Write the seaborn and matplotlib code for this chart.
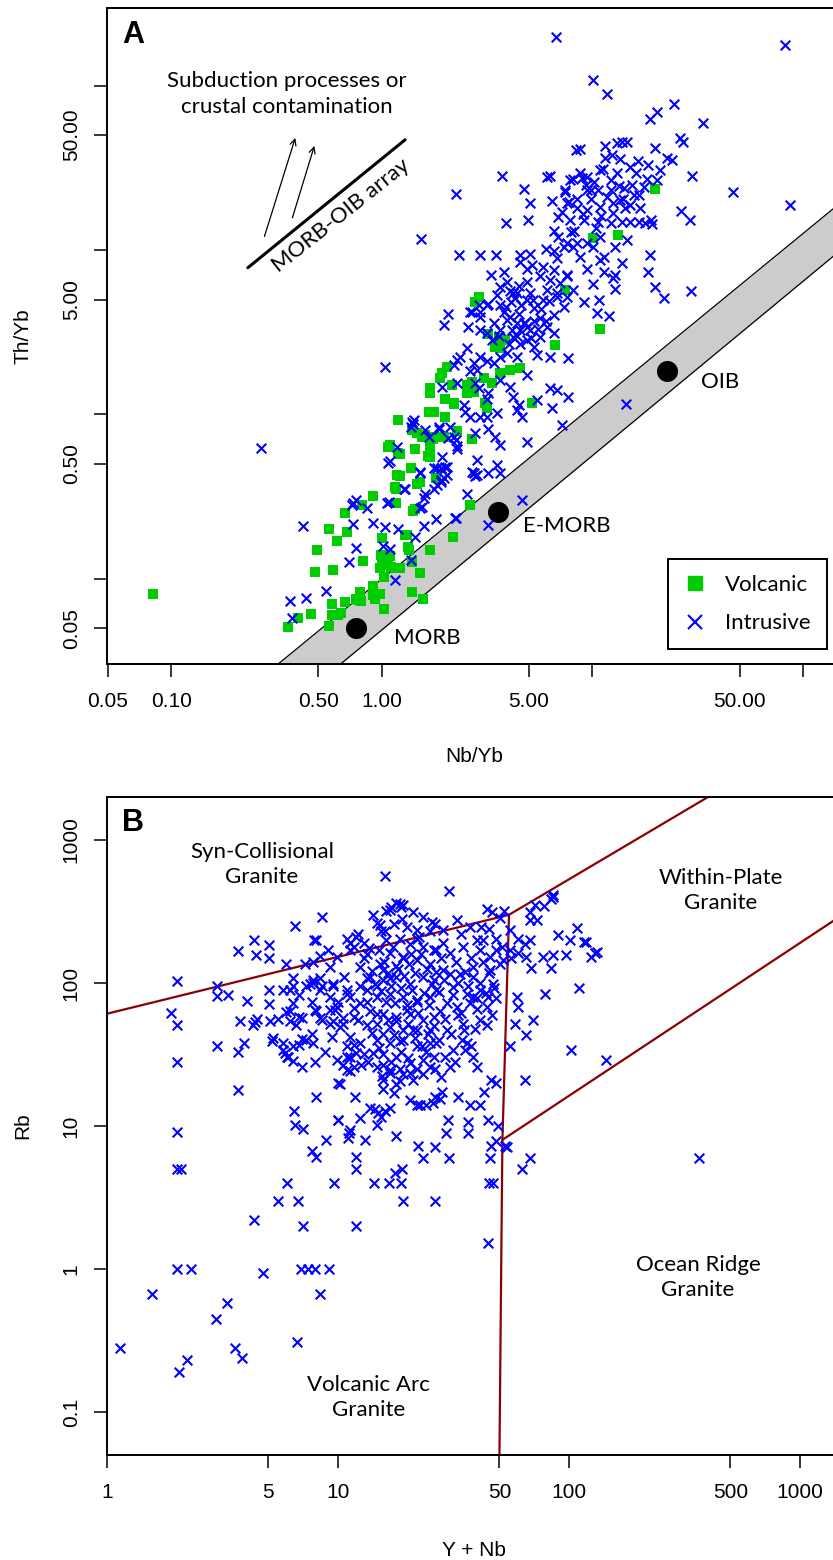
import numpy as np
import pandas as pd
import matplotlib
matplotlib.use("Agg")
import matplotlib.pyplot as plt
import seaborn as sns
from matplotlib.lines import Line2D
from matplotlib.ticker import NullLocator, FixedLocator, FixedFormatter
from matplotlib import font_manager

# ---------------- Panel A data (Nb/Yb vs Th/Yb) ----------------
volc_nb_yb = [
    0.082, 0.36, 0.40, 0.46, 0.48, 0.49, 0.585, 0.615, 0.56, 0.68,
    0.67, 0.805, 0.91, 0.58, 0.58, 0.62, 0.56, 0.67, 0.77, 0.79,
    0.81, 0.91, 0.93, 1.02, 0.98, 0.98, 1.02, 1.07, 1.0, 1.16,
    1.22, 1.18, 1.22, 1.17, 1.17, 1.07, 1.2, 1.19, 1.38, 1.29,
    1.34, 1.39, 1.47, 1.44, 1.41, 1.68, 1.76, 2.0, 2.19, 1.39,
    1.47, 1.55, 1.75, 1.98, 1.09, 1.22, 1.70, 1.66, 1.51, 1.81,
    1.16, 1.43, 2.61, 2.18, 1.69, 1.31, 1.33, 0.99, 1.09, 1.0,
    1.02, 1.10, 1.39, 1.51, 0.91, 0.91, 0.75, 0.80, 0.64, 1.57,
    2.88, 2.78, 3.2, 3.45, 3.65, 3.86, 3.6, 4.07, 4.55, 6.67,
    5.17, 2.04, 1.93, 1.88, 2.15, 2.54, 2.68, 3.05, 3.33, 3.65,
    1.70, 1.70, 1.99, 2.19, 1.73, 1.99, 2.54, 2.73, 3.1, 3.16,
    1.61, 1.76, 1.70, 1.70, 2.27, 2.68, 19.9, 13.2, 10.1, 7.44,
    10.9]
volc_th_yb = [
    0.081, 0.051, 0.0575, 0.061, 0.11, 0.15, 0.114, 0.17, 0.20, 0.194,
    0.25, 0.28, 0.32, 0.07, 0.06, 0.06, 0.052, 0.072, 0.074, 0.083,
    0.128, 0.088, 0.075, 0.066, 0.081, 0.116, 0.139, 0.134, 0.178, 0.116,
    0.116, 0.43, 0.42, 0.35, 0.29, 0.635, 0.58, 0.93, 0.47, 0.186,
    0.15, 0.083, 0.38, 0.62, 0.26, 1.03, 1.04, 0.97, 1.16, 0.80,
    0.77, 0.73, 0.71, 0.73, 0.65, 0.575, 0.61, 0.56, 0.39, 0.41,
    0.36, 0.265, 0.28, 0.18, 0.15, 0.185, 0.157, 0.14, 0.137, 0.122,
    0.103, 0.119, 0.127, 0.109, 0.09, 0.08, 0.076, 0.073, 0.062, 0.076,
    5.2, 4.85, 3.1, 2.58, 2.52, 2.84, 2.9, 1.86, 1.91, 2.64,
    1.17, 1.95, 1.78, 1.66, 1.51, 1.51, 1.58, 1.66, 1.55, 1.78,
    1.44, 1.35, 1.25, 1.17, 1.04, 0.97, 1.35, 1.37, 1.17, 1.09,
    0.75, 0.73, 0.55, 0.64, 0.79, 0.71, 23.4, 12.3, 11.9, 5.7,
    3.33]

intr_nb_yb = [
    0.268, 1.03, 0.42, 0.367, 0.375, 0.438, 0.545, 0.70, 0.757, 0.73,
    0.73, 0.75, 0.72, 0.85, 0.91, 1.04, 1.06, 1.01, 1.09, 1.15,
    1.37, 1.07, 1.18, 1.27, 1.38, 1.40, 1.39, 1.61, 1.86, 2.07,
    2.26, 2.27, 1.67, 1.09, 1.52, 1.76, 1.90, 2.04, 1.93, 1.83,
    1.90, 1.97, 1.61, 1.58, 1.55, 1.52, 1.08, 2.54, 2.73, 2.78,
    2.83, 2.78, 2.26, 1.81, 1.59, 1.19, 1.43, 2.07, 1.97, 2.68,
    2.94, 3.16, 2.88, 2.58, 3.65, 4.07, 4.38, 4.15, 3.93, 4.71,
    5.26, 5.66, 6.10, 6.55, 7.30, 7.57, 6.8, 5.86, 4.88, 4.38,
    4.22, 4.55, 4.88, 5.26, 5.66, 5.05, 4.38, 3.93, 3.65, 3.16,
    3.33, 2.94, 5.45, 6.3, 7.7, 2.54, 2.36, 2.73, 2.94, 3.16,
    3.40, 3.65, 2.83, 2.78, 2.88, 3.2, 3.17, 2.27, 2.19, 4.07,
    4.22, 4.46, 4.38, 4.62, 4.88, 5.45, 6.3, 6.8, 6.4, 7.7,
    7.17, 4.88, 2.45, 2.49, 2.63, 2.94, 3.16, 3.52, 1.93, 2.27,
    2.63, 1.42, 1.86, 2.11, 2.19, 2.27, 3.2, 3.45, 3.65, 1.83,
    1.99, 2.03, 1.9, 1.76, 1.52, 1.29, 2.68, 2.83, 3.2, 3.52,
    4.62, 3.72, 6.28, 7.44, 7.85, 4.75, 5.07, 6.43, 7.57, 2.25,
    3.9, 4.93, 6.85, 1.53, 6.55, 6.9, 2.32, 2.94, 3.5, 4.52,
    5.05, 3.3, 3.79, 3.93, 4.55, 5.17, 5.86, 6.8, 7.30, 7.57,
    6.55, 6.3, 7.05, 7.57, 5.66, 4.88, 4.46, 4.22, 5.05, 6.1,
    6.8, 4.07, 3.65, 11.7, 24.4, 20.3, 18.7, 33.6, 26.2, 27.0,
    8.77, 11.5, 13.1, 13.8, 14.6, 19.9, 11.5, 13.6, 22.6, 23.9,
    18.3, 21.0, 15.1, 16.2, 10.9, 8.13, 8.77, 9.45, 12.2, 13.1,
    18.2, 20.3, 29.8, 46.8, 7.44, 9.45, 10.6, 12.2, 14.1, 16.6,
    7.71, 8.44, 9.45, 10.9, 12.6, 13.6, 15.1, 16.9, 26.4, 29.0,
    7.85, 9.1, 10.6, 12.2, 13.8, 15.1, 16.6, 18.9, 14.6, 12.8,
    10.9, 9.45, 8.13, 18.7, 18.3, 19.9, 21.9, 29.5, 13.8, 11.3,
    12.8, 10.1, 12.8, 10.7, 9.1, 8.13, 7.57, 8.77, 10.1, 11.3,
    6.74, 82.2, 10.1, 8.38, 86.7, 12.0, 10.5, 14.4, 6.10, 8.9,
    9.9, 14.0, 15.7, 17.8, 19.3, 3.52, 3.21, 2.94, 2.63, 3.21,
    3.65, 2.23, 4.88, 6.55, 8.44, 10.9, 12.6, 9.45, 4.55, 3.65,
    3.4, 3.8, 4.1, 4.5, 4.9, 5.3, 5.7, 6.2, 3.6, 4.0,
    4.4, 4.8, 5.1, 5.5, 6.0, 6.6, 3.9, 4.3, 4.6, 5.2,
    8.2, 9.0, 9.8, 10.4, 11.0, 11.8, 12.6, 13.4, 14.3, 15.5,
    16.5, 17.5, 8.5, 9.3, 10.2, 11.2, 12.4, 7.2, 7.9, 6.0]
intr_th_yb = [
    0.625, 1.94, 0.209, 0.0735, 0.0575, 0.0766, 0.084, 0.126, 0.155, 0.215,
    0.29, 0.30, 0.28, 0.27, 0.22, 0.207, 0.29, 0.159, 0.152, 0.099,
    0.131, 0.51, 0.635, 0.35, 0.84, 0.87, 0.90, 0.81, 0.82, 0.72,
    0.70, 0.62, 0.73, 0.52, 0.45, 0.47, 0.47, 0.48, 0.55, 0.37,
    0.40, 0.41, 0.33, 0.31, 0.275, 0.27, 0.295, 0.33, 0.44, 0.42,
    0.53, 0.77, 0.235, 0.23, 0.21, 0.20, 0.18, 4.1, 3.5, 4.2,
    3.93, 4.6, 4.6, 3.42, 4.6, 3.93, 3.58, 3.26, 3.75, 3.58,
    4.42, 3.86, 3.42, 3.11, 4.52, 5.2, 5.45, 4.97, 4.97, 5.45,
    2.97, 2.7, 2.84, 2.58, 2.97, 3.26, 2.25, 2.35, 2.25, 3.11,
    2.84, 3.26, 2.30, 2.25, 2.19, 2.52, 2.25, 2.05, 2.25, 2.1,
    2.05, 1.62, 1.86, 1.55, 1.44, 1.35, 1.25, 2.14, 2.0, 1.47,
    1.28, 1.14, 1.06, 0.97, 1.74, 1.22, 1.44, 1.41, 1.09, 1.28,
    0.86, 0.68, 1.14, 1.04, 0.97, 0.97, 0.97, 1.02, 1.47, 1.55,
    1.83, 0.93, 0.84, 0.84, 0.73, 0.64, 0.82, 0.73, 0.65, 0.47,
    0.48, 0.43, 0.39, 0.35, 0.44, 0.35, 0.45, 0.43, 0.44, 0.49,
    0.30, 28.2, 28.0, 22.6, 26.6, 23.4, 19.2, 19.9, 19.2, 21.8,
    14.5, 15.2, 15.8, 11.6, 13.1, 12.0, 9.3, 9.3, 9.3, 9.3,
    9.5, 7.05, 7.4, 6.4, 8.5, 8.1, 7.9, 8.9, 10.5, 11.0,
    7.55, 6.55, 6.27, 7.05, 6.9, 6.4, 6.0, 5.45, 5.45, 5.7,
    5.2, 5.6, 5.95, 89, 77, 69, 63, 59, 47.7, 45.4,
    41.0, 43.0, 45.0, 45.4, 45.4, 41.5, 36.0, 35.7, 36.0, 35.2,
    32.9, 30.6, 32.1, 29.2, 30.6, 27.2, 29.2, 27.9, 26.7, 29.2,
    27.2, 26.7, 28.0, 22.6, 23.2, 23.2, 23.2, 23.2, 23.8, 21.6,
    19.6, 17.9, 17.5, 18.3, 19.2, 20.1, 18.8, 17.9, 17.3, 15.2,
    15.2, 15.2, 14.8, 14.5, 14.9, 14.9, 14.9, 15.2, 11.5, 10.5,
    12.0, 11.0, 10.5, 9.3, 7.3, 5.97, 5.1, 5.6, 8.30, 7.4,
    7.05, 6.25, 5.76, 5.0, 4.85, 5.7, 6.9, 9.1, 10.5, 9.1,
    198, 177, 107.5, 40.8, 18.8, 3.98, 4.13, 1.15, 27.9, 27.5,
    23.0, 20.3, 21.7, 14.5, 14.3, 5.33, 4.72, 4.18, 4.18, 0.214,
    0.44, 0.235, 7.67, 9.8, 11.1, 8.7, 6.8, 7.67, 3.28, 3.28,
    3.6, 4.2, 4.8, 4.1, 3.4, 3.7, 4.4, 4.9, 3.0, 2.7,
    3.0, 3.6, 2.9, 3.3, 3.7, 4.0, 4.5, 5.1, 4.6, 5.0,
    13.0, 16.5, 20.5, 13.6, 16.2, 21.0, 16.8, 24.5, 18.0, 25.0,
    35.0, 24.0, 20.5, 25.0, 26.0, 31.0, 38.0, 17.0, 12.8, 10.2]

# reference compositions
ref_names = ["MORB", "E-MORB", "OIB"]
ref_nb_yb = [0.75, 3.57, 22.5]
ref_th_yb = [0.050, 0.255, 1.84]

# MORB-OIB array band edges (end points)
band_nb_yb = [0.2, 160.0]
band_upper = [0.01845, 20.6]
band_lower = [0.0089, 10.6]

# MORB-OIB array key line and arrows
key_nb_yb = [0.231, 1.29]
key_th_yb = [7.8, 46.8]
arrow_start = [(0.277, 12.1), (0.376, 15.7)]
arrow_end = [(0.388, 48.0), (0.478, 42.9)]

# ---------------- Panel B data (Y+Nb vs Rb) ----------------
gr_y_nb = [
    1.14, 1.56, 2.04, 2.21, 2.0, 2.30, 2.0, 2.1, 2.0, 2.0,
    2.0, 1.9, 2.0, 2.96, 3.3, 3.6, 3.83, 4.72, 4.33, 6.66,
    8.37, 6.9, 7.4, 7.95, 9.1, 7.08, 5.5, 6.7, 6.03, 9.6,
    12.0, 14.3, 16.7, 18.8, 17.6, 19.0, 19.2, 8.03, 6.44, 6.5,
    7.08, 7.7, 8.06, 8.83, 10.0, 11.1, 11.2, 12.0, 12.0, 13.1,
    10.0, 11.9, 3.7, 3.7, 3.9, 2.98, 3.76, 4.37, 4.28, 4.44,
    4.02, 2.98, 2.98, 3.35, 3.7, 4.42, 4.33, 5.04, 5.04, 5.04,
    5.04, 5.08, 5.5, 5.16, 5.25, 5.8, 6.2, 6.4, 5.98, 5.98,
    6.2, 6.6, 6.8, 5.8, 5.9, 6.1, 6.4, 6.5, 7.9, 8.06,
    8.5, 7.2, 7.8, 8.36, 9.06, 6.4, 6.8, 7.3, 7.8, 8.36,
    8.5, 6.97, 7.7, 7.95, 8.36, 9.2, 9.5, 6.97, 7.8, 7.95,
    8.77, 9.4, 10.2, 10.5, 10.9, 11.7, 12.0, 11.3, 12.6, 9.5,
    10.0, 10.9, 11.7, 10.5, 9.7, 10.9, 11.7, 12.2, 12.9, 13.3,
    14.2, 14.7, 15.4, 16.2, 17.0, 17.9, 18.8, 16.0, 13.3, 14.7,
    15.7, 16.8, 17.9, 19.1, 20.8, 21.9, 13.3, 14.7, 16.2, 17.9,
    19.8, 21.9, 13.3, 15.7, 18.5, 21.2, 14.2, 15.7, 16.8, 18.5,
    20.5, 15.7, 17.4, 13.8, 14.9, 15.9, 16.8, 17.9, 20.5, 21.9,
    18.5, 19.1, 16.8, 21.2, 23.4, 25.5, 15.2, 17.4, 19.8, 21.9,
    16.2, 18.5, 20.5, 23.4, 26.0, 16.8, 19.1, 21.9, 25.0, 15.2,
    12.4, 13.8, 15.7, 17.9, 20.5, 23.4, 26.0, 13.3, 14.7, 16.8,
    19.1, 21.9, 25.0, 13.8, 15.7, 17.9, 20.5, 23.4, 26.0, 14.7,
    16.8, 19.1, 21.9, 25.0, 14.7, 16.8, 19.1, 21.9, 25.0, 15.7,
    17.9, 20.5, 23.4, 26.0, 14.7, 16.8, 19.1, 15.7, 17.9, 21.2,
    23.4, 24.9, 22.7, 24.1, 26.3, 22.3, 26.3, 11.3, 12.0, 11.3,
    9.9, 9.2, 10.6, 9.5, 10.9, 11.3, 12.4, 11.7, 10.5, 11.3,
    12.4, 12.9, 11.3, 11.7, 10.9, 9.9, 9.2, 8.36, 7.8, 7.6,
    6.4, 6.2, 8.06, 8.5, 9.2, 7.7, 7.3, 6.8, 6.4, 5.8,
    6.0, 6.97, 9.9, 10.9, 10.2, 10.0, 11.3, 12.4, 14.4, 15.4,
    14.7, 30.3, 44.2, 46.5, 52.2, 50.3, 67.8, 71.3, 78, 67.8,
    73, 85, 84, 32.6, 28.6, 26.3, 37.3, 41.7, 42.4, 48.5,
    51.2, 55.5, 60.4, 64.6, 67.8, 89.7, 101, 108, 116, 130,
    132, 125, 77.4, 85, 97, 84, 68.6, 65.4, 60.4, 56.3,
    55.5, 111, 78.5, 59.6, 60.4, 58.3, 70, 65.4, 55.5, 102,
    145, 64.6, 45.8, 48.4, 43, 41, 37.3, 33, 28.1, 27.6,
    25.8, 29.9, 36.5, 36.5, 29.4, 44.5, 49.4, 48.5, 52.8, 38.4,
    44.8, 48.5, 39.9, 37.8, 35.4, 38.4, 29.0, 30.5, 26.3, 44.2,
    39.2, 34.4, 26.6, 30.5, 34.9, 41, 45.5, 48.5, 51.8, 28.6,
    33.7, 38.4, 45.5, 50.3, 26.6, 31.5, 36.1, 41, 46.8, 27.6,
    32.6, 37.3, 44.2, 29.5, 34.9, 41, 26.6, 31.5, 36.1, 53.7,
    45.9, 44.6, 364, 45.1, 26.3, 62.4, 67.8, 46.9, 23.4, 30.3,
    45.5, 119, 85,
    13.0, 13.6, 14.1, 14.5, 15.0, 15.3, 15.8, 16.4, 16.9, 17.3,
    17.7, 18.2, 18.7, 19.4, 19.9, 20.3, 21.0, 21.6, 22.2, 22.8,
    23.5, 24.2, 24.8, 25.6, 26.5, 27.3, 28.0, 28.8, 29.6, 30.5,
    31.4, 32.3, 33.2, 34.2, 35.3, 36.4, 37.5, 38.6, 39.8, 41.0,
    42.3, 43.6, 45.0, 46.3, 47.5, 14.0, 15.0, 16.5, 17.5, 18.8,
    20.0, 21.5, 23.0, 24.5, 26.0, 27.5, 29.0, 31.0, 33.0, 35.0,
    13.5, 15.5, 17.0, 18.5, 20.0, 22.0, 24.0, 28.0, 32.0, 40.0,
    16.0, 19.0, 22.5, 25.0, 28.5, 34.0, 40.0, 45.0, 12.5, 12.2]
gr_rb = [
    0.28, 0.67, 0.19, 0.23, 1.0, 1.0, 5.0, 5.0, 9.1, 28.2,
    51, 62, 103, 0.45, 0.58, 0.28, 0.24, 0.93, 2.2, 0.31,
    0.67, 1.0, 1.0, 1.0, 1.0, 2.0, 3.0, 3.0, 4.0, 4.0,
    2.0, 4.0, 4.0, 4.0, 4.7, 5.0, 3.0, 16.0, 12.8, 10.1,
    9.5, 6.7, 6.1, 8.0, 11.1, 8.2, 9.0, 6.1, 5.0, 8.0,
    20.0, 16.0, 18.0, 33, 38, 36, 54.6, 53, 50.6, 56,
    75, 95.6, 81.5, 82, 167, 158, 200, 184, 150, 89.6,
    71.6, 54.6, 56, 39, 41, 89.6, 89.6, 95.6, 135, 63,
    54, 50.6, 58, 38, 32.3, 30.4, 28.5, 251, 200, 200,
    290, 135, 141, 154, 169, 108, 82, 95.6, 100, 108,
    95.6, 57, 74, 65, 57, 65, 54, 40.4, 38, 28,
    33, 42, 49, 26.7, 30.4, 36.7, 32.3, 24.3, 26.7, 95.6,
    74, 84, 67, 57, 65, 203, 180, 219, 192, 159,
    300, 264, 232, 321, 342, 364, 342, 558, 108, 95.6,
    123, 108, 131, 150, 159, 203, 74, 61, 74, 54,
    65, 74, 50.6, 44.3, 39, 47, 32.3, 26.7, 23.5, 20.7,
    23.5, 18.2, 17.1, 13.3, 12.4, 12.8, 13.3, 8.5, 15.1, 14.1,
    359, 350, 322, 313, 290, 266, 254, 260, 246, 233,
    199, 204, 188, 178, 169, 161, 153, 144, 136, 136,
    130, 110, 105, 110, 99, 110, 105, 89, 80, 84,
    80, 76, 80, 64, 61, 58, 61, 55, 58, 52,
    49, 47, 47, 47, 40, 38, 40, 36, 38, 32,
    30.4, 27.4, 29, 30.4, 26, 24.5, 23.2, 20.9, 19.8, 20.9,
    23.2, 26, 14.0, 14.0, 16.0, 7.2, 7.1, 189, 210, 169,
    153, 130, 110, 99, 89, 80, 72, 58, 52, 42,
    38, 32, 30.4, 26, 36, 68, 80, 89, 105, 99,
    72, 64, 64, 55, 52, 44, 40, 37, 36, 34,
    30.4, 26, 29, 24.5, 19.8, 11.0, 9.4, 11.3, 13.2, 11.6,
    10.2, 440, 331, 313, 317, 283, 313, 350, 344, 275,
    275, 399, 386, 275, 233, 260, 246, 246, 199, 204,
    178, 233, 204, 188, 199, 216, 199, 241, 193, 161,
    165, 153, 153, 157, 157, 128, 128, 153, 161, 149,
    169, 92.5, 84, 80, 68, 52, 55, 43.6, 36, 34,
    29, 21.1, 21.1, 20, 17.3, 14.0, 14.0, 16.0, 17.3, 15.4,
    14.4, 11.1, 10.7, 8.9, 8.9, 11.1, 10.0, 7.9, 7.3, 80,
    80, 78, 66, 36, 34, 30.4, 30.4, 26, 25.2, 50.6,
    48, 40, 169, 161, 178, 169, 153, 169, 144, 123,
    116, 130, 123, 136, 89, 94, 84, 89, 99, 64,
    68, 72, 68, 47, 52, 55, 38, 34, 38, 7.1,
    7.2, 1.52, 6.0, 4.0, 3.0, 5.0, 6.0, 4.0, 6.0, 6.0,
    6.0, 193, 412,
    150, 175, 122, 98, 170, 88, 140, 117, 95, 180,
    72, 125, 92, 112, 70, 135, 90, 118, 62, 160,
    85, 125, 70, 98, 120, 86, 150, 105, 72, 115,
    82, 140, 100, 62, 120, 95, 150, 110, 78, 100,
    140, 85, 118, 60, 92, 45, 35, 55, 43, 33,
    52, 41, 36, 44, 50, 40, 56, 44, 60, 47,
    28, 22.5, 28, 25, 30, 25, 33, 22, 28, 26,
    230, 280, 210, 230, 190, 220, 200, 240, 95, 55]

# Pearce et al. (1984) discrimination boundaries
bnd_vag_col_x = [1, 55]
bnd_vag_col_y = [61, 300]
bnd_col_wpg_x = [55, 400]
bnd_col_wpg_y = [300, 2000]
bnd_vert_x = [55, 51.5, 50]
bnd_vert_y = [300, 8, 0.05]
bnd_wpg_org_x = [51.5, 2000]
bnd_wpg_org_y = [8, 400]

# ---------------- style ----------------
sns.set_theme(style="ticks")
avail = {f.name for f in font_manager.fontManager.ttflist}
SANS = "Liberation Sans" if "Liberation Sans" in avail else "DejaVu Sans"
HUM = "Lato" if "Lato" in avail else SANS
plt.rcParams["font.family"] = [SANS, "DejaVu Sans"]
plt.rcParams["axes.edgecolor"] = "black"
plt.rcParams["xtick.color"] = "black"
plt.rcParams["ytick.color"] = "black"
plt.rcParams["text.color"] = "black"

GREEN = "#00CD00"
BLUE = "#0000FF"
DARKRED = "#8B0000"
ANN = 16

W, H = 833, 1560
fig = plt.figure(figsize=(W / 100, H / 100), dpi=100)


def px_axes(l, t, r, b):
    return fig.add_axes([l / W, 1 - b / H, (r - l) / W, (b - t) / H])


def style_axes(ax):
    for s in ["left", "bottom", "top"]:
        ax.spines[s].set_linewidth(1.4)
        ax.spines[s].set_color("black")
    ax.spines["right"].set_visible(False)
    ax.xaxis.set_minor_locator(NullLocator())
    ax.yaxis.set_minor_locator(NullLocator())
    ax.tick_params(axis="both", which="major", direction="out", length=9.4,
                   width=1.1, labelsize=15, color="black")
    ax.tick_params(axis="x", pad=10.5)
    ax.tick_params(axis="y", pad=9.5, labelrotation=90)
    for lab in ax.get_yticklabels():
        lab.set_va("center")
    ax.grid(False)


# ================= Panel A =================
axA = px_axes(107, 8, 833, 664)
axA.set_xscale("log")
axA.set_yscale("log")

axA.fill_between(band_nb_yb, band_lower, band_upper, color="#CCCCCC", lw=0, zorder=1)
axA.plot(band_nb_yb, band_upper, color="black", lw=0.9, zorder=1.5)
axA.plot(band_nb_yb, band_lower, color="black", lw=0.9, zorder=1.5)

sns.scatterplot(x=ref_nb_yb, y=ref_th_yb, color="black", s=230, linewidth=0,
                ax=axA, zorder=3, legend=False)

dfv = pd.DataFrame({"nb": volc_nb_yb, "th": volc_th_yb})
dfi = pd.DataFrame({"nb": intr_nb_yb, "th": intr_th_yb})
sns.scatterplot(data=dfv, x="nb", y="th", marker="s", color=GREEN, s=52,
                linewidth=0, ax=axA, zorder=4, legend=False)
sns.scatterplot(data=dfi, x="nb", y="th", marker="x", color=BLUE, s=48,
                linewidth=1.5, ax=axA, zorder=5, legend=False)

axA.plot(key_nb_yb, key_th_yb, color="black", lw=2.2, zorder=2)
for (x0, y0), (x1, y1) in zip(arrow_start, arrow_end):
    axA.annotate("", xy=(x1, y1), xytext=(x0, y0),
                 arrowprops=dict(arrowstyle="->", lw=0.9, color="black",
                                 shrinkA=0, shrinkB=0, mutation_scale=11))

axA.text(0.352, 88.8, "Subduction processes or\ncrustal contamination",
         ha="center", va="center", fontsize=ANN, family=HUM, linespacing=1.35)
axA.text(0.641, 16.3, "MORB-OIB array", rotation=38.5, rotation_mode="anchor",
         ha="center", va="center", fontsize=ANN, family=HUM)
label_pos = {"MORB": (1.64, 0.0438), "E-MORB": (7.6, 0.21), "OIB": (40.5, 1.585)}
for nm in ref_names:
    lx, ly = label_pos[nm]
    axA.text(lx, ly, nm, ha="center", va="center", fontsize=ANN, family=HUM)

axA.text(0.036, 0.959, "A", transform=axA.transAxes, ha="center", va="center",
         fontsize=22, fontweight="bold")

axA.set_xlim(0.0495, 139)
axA.set_ylim(0.0304, 296)
a_ticks = [0.05, 0.1, 0.5, 1, 5, 10, 50, 100]
axA.xaxis.set_major_locator(FixedLocator(a_ticks))
axA.xaxis.set_major_formatter(FixedFormatter(["0.05", "0.10", "0.50", "1.00", "5.00", "", "50.00", ""]))
axA.yaxis.set_major_locator(FixedLocator(a_ticks))
axA.yaxis.set_major_formatter(FixedFormatter(["0.05", "", "0.50", "", "5.00", "", "50.00", ""]))
axA.set_xlabel("")
axA.set_ylabel("")
style_axes(axA)

handles = [
    Line2D([0], [0], marker="s", linestyle="None", markerfacecolor=GREEN,
           markeredgecolor=GREEN, markersize=10.5, label="Volcanic"),
    Line2D([0], [0], marker="x", linestyle="None", markeredgecolor=BLUE,
           markersize=10, markeredgewidth=1.5, label="Intrusive"),
]
leg = axA.legend(handles=handles, loc="lower left",
                 bbox_to_anchor=(0.773, 0.0229, 0.219, 0.137), mode="expand",
                 borderaxespad=0, fancybox=False, framealpha=1, edgecolor="black",
                 prop={"family": HUM, "size": ANN}, handlelength=1.0,
                 handletextpad=0.85, labelspacing=0.85, borderpad=0.7)
leg.get_frame().set_linewidth(1.4)

fig.text(22.7 / W, 1 - 336 / H, "Th/Yb", rotation=90, ha="center", va="center", fontsize=15)
fig.text(474 / W, 1 - 756 / H, "Nb/Yb", ha="center", va="center", fontsize=15)

# ================= Panel B =================
axB = px_axes(107, 797, 833, 1455)
axB.set_xscale("log")
axB.set_yscale("log")

for bx, by in [(bnd_vag_col_x, bnd_vag_col_y), (bnd_col_wpg_x, bnd_col_wpg_y),
               (bnd_vert_x, bnd_vert_y), (bnd_wpg_org_x, bnd_wpg_org_y)]:
    axB.plot(bx, by, color=DARKRED, lw=1.6, zorder=2, solid_joinstyle="miter")

dfg = pd.DataFrame({"ynb": gr_y_nb, "rb": gr_rb})
sns.scatterplot(data=dfg, x="ynb", y="rb", marker="x", color=BLUE, s=48,
                linewidth=1.5, ax=axB, zorder=5, legend=False)

axB.text(4.69, 676, "Syn-Collisional\nGranite", ha="center", va="center",
         fontsize=ANN, family=HUM, linespacing=1.3)
axB.text(455, 441, "Within-Plate\nGranite", ha="center", va="center",
         fontsize=ANN, family=HUM, linespacing=1.3)
axB.text(362, 0.868, "Ocean Ridge\nGranite", ha="center", va="center",
         fontsize=ANN, family=HUM, linespacing=1.3)
axB.text(13.6, 0.126, "Volcanic Arc\nGranite", ha="center", va="center",
         fontsize=ANN, family=HUM, linespacing=1.3)
axB.text(0.036, 0.961, "B", transform=axB.transAxes, ha="center", va="center",
         fontsize=22, fontweight="bold")

axB.set_xlim(1, 1390)
axB.set_ylim(0.05, 2000)
bx_ticks = [1, 5, 10, 50, 100, 500, 1000]
axB.xaxis.set_major_locator(FixedLocator(bx_ticks))
axB.xaxis.set_major_formatter(FixedFormatter([str(t) for t in bx_ticks]))
by_ticks = [0.1, 1, 10, 100, 1000]
axB.yaxis.set_major_locator(FixedLocator(by_ticks))
axB.yaxis.set_major_formatter(FixedFormatter(["0.1", "1", "10", "100", "1000"]))
axB.set_xlabel("")
axB.set_ylabel("")
style_axes(axB)

fig.text(22.7 / W, 1 - 1126 / H, "Rb", rotation=90, ha="center", va="center", fontsize=15)
fig.text(474 / W, 1 - 1550 / H, "Y + Nb", ha="center", va="center", fontsize=15)

fig.savefig("out.png", dpi=100)
